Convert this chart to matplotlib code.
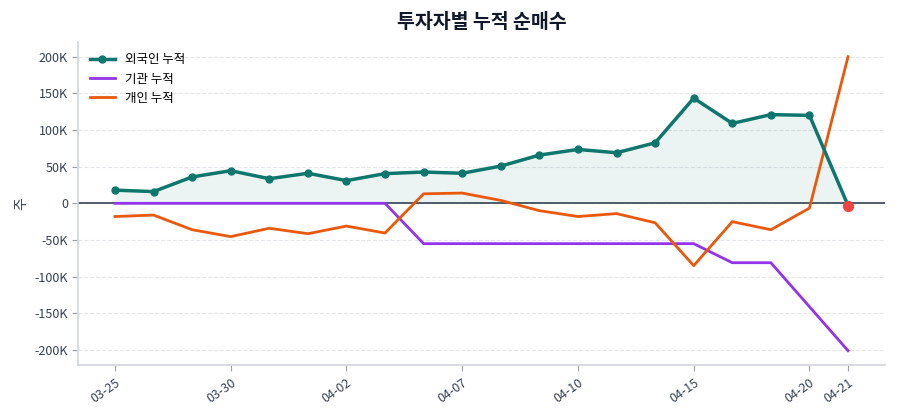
import numpy as np
import matplotlib.pyplot as plt
from matplotlib.ticker import FuncFormatter

plt.rcParams['font.family'] = ['Noto Sans CJK KR', 'DejaVu Sans']
plt.rcParams['axes.unicode_minus'] = False

# 거래일
dates = ["03-25", "03-26", "03-27", "03-30", "03-31", "04-01", "04-02", "04-03",
         "04-06", "04-07", "04-08", "04-09", "04-10", "04-13", "04-14", "04-15",
         "04-16", "04-17", "04-20", "04-21"]
tick_dates = ["03-25", "03-30", "04-02", "04-07", "04-10", "04-15", "04-20", "04-21"]

# 누적 순매수 (주)
foreign = [18000, 16000, 36000, 44500, 33600, 41000, 31000, 40500, 42700, 41000,
           50800, 65800, 73500, 69000, 82500, 143500, 109000, 121000, 120000, -3000]
institution = [0, 0, 0, 0, 0, 0, 0, 0, -55000, -55000,
               -55000, -55000, -55000, -55000, -55000, -55000, -81000, -81000, -141000, -201000]
individual = [-18000, -16000, -36000, -45400, -34000, -41400, -31000, -40500, 13000, 14000,
              4000, -10000, -18000, -14000, -26500, -85000, -25000, -36000, -6500, 200000]

x = np.arange(len(dates))

fig, ax = plt.subplots(figsize=(9, 4.2), dpi=100)

ax.axhline(0, color='#374151', lw=1.2, zorder=1)
ax.fill_between(x, foreign, 0, color='#0f766e', alpha=0.08, lw=0, zorder=1)
ax.plot(x, foreign, color='#0f766e', lw=2.5, marker='o', ms=5, label='외국인 누적', zorder=4)
ax.plot(x, institution, color='#9333ea', lw=2, label='기관 누적', zorder=3)
ax.plot(x, individual, color='#ea580c', lw=2, label='개인 누적', zorder=3)
ax.scatter([x[-1]], [foreign[-1]], color='#ef4444', s=50, zorder=5)

ax.set_title('투자자별 누적 순매수', fontsize=14, fontweight='bold', color='#111827', pad=10)
ax.set_ylabel('주', fontsize=10, color='#374151')

tick_pos = [dates.index(d) for d in tick_dates]
ax.set_xticks(tick_pos)
ax.set_xticklabels(tick_dates, rotation=35, ha='right', rotation_mode='anchor')
ax.yaxis.set_major_formatter(FuncFormatter(lambda v, p: '0' if v == 0 else f'{int(v/1000)}K'))
ax.set_yticks(np.arange(-200000, 200001, 50000))

ax.tick_params(colors='#374151', labelsize=9)
ax.tick_params(axis='both', color='#9ca3af', length=4)
ax.grid(axis='y', ls='--', color='#e5e7eb', lw=0.8)
ax.set_axisbelow(True)
for s in ['top', 'right']:
    ax.spines[s].set_visible(False)
for s in ['left', 'bottom']:
    ax.spines[s].set_color('#d1d5db')
    ax.spines[s].set_linewidth(1.2)

ax.legend(loc='upper left', frameon=False, fontsize=9)

plt.subplots_adjust(left=0.087, right=0.983, top=0.9, bottom=0.13)
plt.savefig('out.png', dpi=100)
